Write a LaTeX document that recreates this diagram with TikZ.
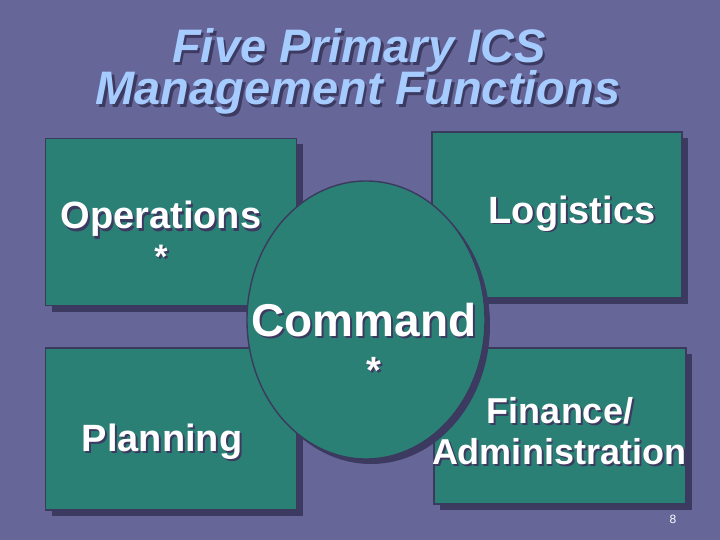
\documentclass[tikz,border=0pt]{standalone}
\usepackage{fontspec}
\setmainfont{Liberation Sans}
\usetikzlibrary{shadows}
\definecolor{bgc}{HTML}{666699}
\definecolor{boxc}{HTML}{2A8075}
\definecolor{edgec}{HTML}{3A3A5E}
\definecolor{shc}{HTML}{3C3A60}
\definecolor{titlec}{HTML}{A6CCFF}
\tikzset{
  fbox/.style={rectangle, draw=edgec, line width=1.4pt, fill=boxc, inner sep=0pt,
    drop shadow={shadow xshift=6pt, shadow yshift=-6pt, fill=shc, opacity=1}},
  cmdell/.style={ellipse, draw=edgec, line width=1.4pt, fill=boxc, inner sep=0pt,
    drop shadow={shadow xshift=5pt, shadow yshift=-5pt, fill=shc, opacity=1}},
  lbl/.style={anchor=base, inner sep=0pt, text=white, font=\bfseries},
  lblsh/.style={anchor=base, inner sep=0pt, text=shc, font=\bfseries, xshift=2pt, yshift=-2pt},
  ttl/.style={anchor=base, inner sep=0pt, text=titlec, font=\bfseries\itshape\fontsize{47}{50}\selectfont},
  ttlsh/.style={ttl, text=shc, xshift=2.5pt, yshift=-2.5pt}
}
\newcommand\stxt[4]{%
  \node[lblsh, font=\bfseries#3] at (#2) {#4};
  \node[lbl, font=\bfseries#3] (#1) at (#2) {#4};}
\usetikzlibrary{shapes.geometric}
\begin{document}
\begin{tikzpicture}[x=1pt,y=-1pt]
\fill[bgc] (0,0) rectangle (720,540);
\useasboundingbox (0,0) rectangle (720,540);
% title
\node[ttlsh] at (359,63) {Five Primary ICS};
\node[ttl] (t1) at (359,63) {Five Primary ICS};
\node[ttlsh] at (358,105) {Management Functions};
\node[ttl] (t2) at (358,105) {Management Functions};
% boxes
\node[fbox, minimum width=251pt, minimum height=167pt] (ops) at (171,222) {};
\node[fbox, minimum width=250pt, minimum height=166pt] (log) at (557,215) {};
\node[fbox, minimum width=251pt, minimum height=162pt] (plan) at (171,429) {};
\node[fbox, minimum width=252pt, minimum height=156pt] (fin) at (560,426) {};
% command ellipse
\node[cmdell, minimum width=238pt, minimum height=278pt] (cmd) at (366,320) {};
% labels
\stxt{opsl}{161,229}{\fontsize{38}{40}\selectfont}{Operations}
\stxt{opss}{161,268}{\fontsize{34}{36}\selectfont}{*}
\stxt{logl}{572,223}{\fontsize{38}{40}\selectfont}{Logistics}
\stxt{cmdl}{364,336}{\fontsize{46}{48}\selectfont}{Command}
\stxt{cmds}{374,383}{\fontsize{38}{40}\selectfont}{*}
\stxt{planl}{162,451}{\fontsize{38}{40}\selectfont}{Planning}
\stxt{finl}{560,423}{\fontsize{36}{38}\selectfont}{Finance/}
\stxt{adml}{559,464}{\fontsize{36}{38}\selectfont}{Administration}
\node[anchor=base, inner sep=0pt, text=white, font=\fontsize{12}{14}\selectfont] (pg) at (673,523) {8};
\end{tikzpicture}
\end{document}
